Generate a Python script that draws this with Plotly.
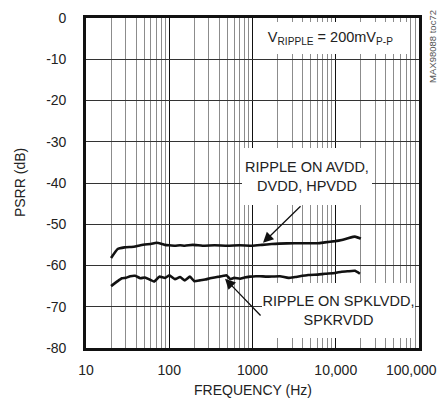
import numpy as np
import plotly.graph_objects as go

# === Data ===
FREQ_AVDD = [20, 24, 29, 35, 39, 45, 51, 60, 70, 80, 89, 100, 117, 135, 154, 192,
             250, 350, 500, 700, 1000, 1300, 1700, 2100, 3200, 4600, 6100, 7400,
             9800, 11800, 14000, 17000, 19500, 20000]
PSRR_AVDD = [-58.2, -56.0, -55.6, -55.5, -55.4, -55.1, -54.9, -54.8, -54.5, -54.7,
             -55.0, -55.1, -55.2, -55.1, -55.2, -55.0, -55.2, -55.1, -55.2, -55.1,
             -55.2, -55.0, -54.8, -54.7, -54.6, -54.6, -54.6, -54.4, -54.1, -53.8,
             -53.4, -53.0, -53.4, -53.5]

FREQ_SPK = [20, 24, 27, 30, 34, 39, 45, 51, 58, 66, 76, 89, 100, 117, 135, 154, 177,
            200, 234, 270, 309, 350, 400, 450, 489, 540, 600, 708, 800, 933, 1100,
            1231, 1500, 2137, 2700, 3235, 4650, 6100, 7430, 9800, 11780, 14000,
            17000, 19500]
PSRR_SPK = [-65.0, -63.8, -63.1, -63.0, -62.6, -62.5, -63.1, -62.9, -63.4, -63.9,
            -62.7, -63.0, -62.4, -63.3, -62.8, -63.6, -62.7, -63.8, -63.6, -63.4,
            -63.1, -62.9, -62.7, -62.5, -62.4, -63.3, -63.0, -63.2, -62.9, -62.7,
            -62.6, -62.6, -62.7, -62.6, -63.0, -62.8, -62.3, -62.2, -62.0, -61.8,
            -61.5, -61.4, -61.3, -62.0]

X_TICKS = [10, 100, 1000, 10000, 100000]
# trailing no-break spaces pull the last label back inside the window
X_LABELS = ["10", "100", "1000", "10,000", "100,000\u00a0\u00a0\u00a0\u00a0"]
Y_TICKS = [0, -10, -20, -30, -40, -50, -60, -70, -80]
Y_LABELS = ["0", "-10", "-20", "-30", "-40", "-50", "-60", "-70", "-80"]

FONT = "Liberation Sans, Arial, sans-serif"

fig = go.Figure()
for f, v in [(FREQ_AVDD, PSRR_AVDD), (FREQ_SPK, PSRR_SPK)]:
    fig.add_trace(go.Scatter(x=f, y=v, mode="lines",
                             line=dict(color="#111111", width=2.6, shape="spline", smoothing=0.4),
                             showlegend=False, hoverinfo="skip"))

# labels on white boxes that hide the grid behind them
labels = [
    ("V<sub>RIPPLE</sub> = 200mV<sub>P-P</sub>", 0.733, 0.939, 155, 32),
    ("RIPPLE ON AVDD,<br>DVDD, HPVDD", 0.664, 0.520, 130, 57),
    ("RIPPLE ON SPKLVDD,<br>SPKRVDD", 0.758, 0.114, 153, 55),
]
for txt, x, y, w, h in labels:
    fig.add_annotation(xref="x domain", yref="y domain", x=x, y=y, showarrow=False,
                       xanchor="center", yanchor="middle",
                       text=txt, width=w, height=h, bgcolor="white", borderpad=0,
                       borderwidth=0, align="center", valign="middle", font=dict(size=14.5))

# arrows pointing to the curves
for (hx, hy), (tx, ty) in [((1337, -54.5), (3936, -45.3)), ((468, -63.2), (1300, -72.5))]:
    fig.add_annotation(x=np.log10(hx), y=hy, ax=np.log10(tx), ay=ty, xref="x", yref="y",
                       axref="x", ayref="y", text="", showarrow=True, arrowhead=2,
                       arrowsize=1.6, arrowwidth=1.3, arrowcolor="#111111", standoff=0)

fig.add_annotation(xref="paper", yref="paper", x=1.04, y=1.03, xanchor="center", yanchor="top",
                   text="MAX98088 toc72", textangle=-90, showarrow=False,
                   font=dict(size=9.5, color="#555555"))

# axis titles
fig.add_annotation(xref="paper", yref="paper", x=0.5, y=-0.127, showarrow=False,
                   xanchor="center", yanchor="middle",
                   text="FREQUENCY (Hz)", font=dict(size=14))
fig.add_annotation(xref="paper", yref="paper", x=-0.198, y=0.5, showarrow=False,
                   xanchor="center", yanchor="middle",
                   text="PSRR (dB)", textangle=-90, font=dict(size=14))

fig.update_xaxes(type="log", range=[1, 5], tickvals=X_TICKS, ticktext=X_LABELS,
                 showgrid=True, gridcolor="#111111", gridwidth=1.2,
                 minor=dict(dtick="D1", showgrid=True, gridcolor="#8c8c8c", gridwidth=1),
                 showline=True, mirror=True, linecolor="#111111", linewidth=2.6,
                 ticks="", ticklabelstandoff=7, ticklabeloverflow="allow",
                 zeroline=False, automargin=False)
fig.update_yaxes(range=[-80, 0], tickvals=Y_TICKS, ticktext=Y_LABELS,
                 showgrid=True, gridcolor="#333333", gridwidth=1,
                 showline=True, mirror=True, linecolor="#111111", linewidth=2.6,
                 ticks="", ticklabelstandoff=14, zeroline=False, automargin=False)

# the page keeps an 8px body margin, so the figure is sized to fit the window
fig.update_layout(width=437, height=400, margin=dict(l=78, r=26, t=10, b=60),
                  plot_bgcolor="white", paper_bgcolor="white",
                  font=dict(family=FONT, size=14, color="#222222"))

fig.write_html("out.html")
